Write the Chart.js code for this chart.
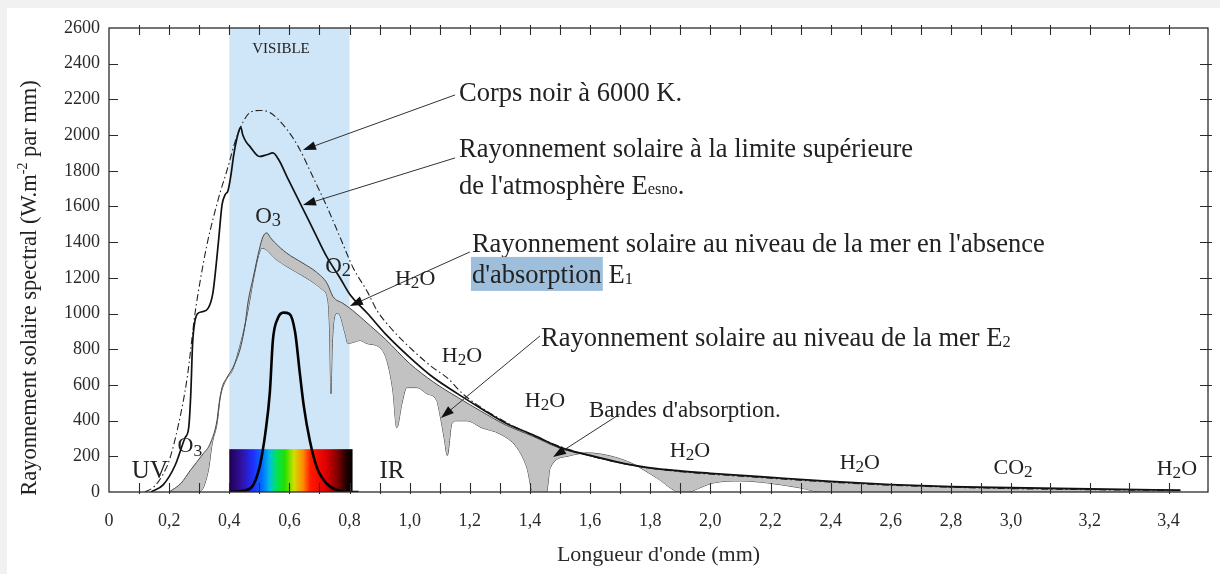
<!DOCTYPE html>
<html>
<head>
<meta charset="utf-8">
<script src="https://cdn.jsdelivr.net/npm/chart.js@4/dist/chart.umd.min.js"></script>
<style>
  html, body { margin: 0; padding: 0; background: #fff; overflow: hidden; }
  canvas { display: block; }
</style>
</head>
<body>
<canvas id="spectre" width="1220" height="574"></canvas>
<script>
// ---- Spectral irradiance readings (wavelength, W.m-2 per unit) ----

// Black body at 6000 K
const bbX = [0.12,0.15,0.18,0.20,0.23,0.26,0.286,0.303,0.325,0.346,0.37,0.392,0.425,0.469,0.502,0.535,0.592,0.635,0.678,0.725,0.768,0.811,0.86,0.891,0.944,1.011,1.077,1.124,1.18,1.3,1.4,1.5,1.6,1.7,1.8,1.9,2.0,2.2,2.4,2.6,2.8,3.0,3.2,3.43];
const bbY = [0,30,100,175,370,640,1000,1180,1380,1530,1680,1800,1990,2126,2138,2126,2031,1918,1766,1598,1429,1260,1120,1018,906,793,697,641,545,410,325,255,203,163,133,114,100,77,55,38,27,19,13,8];

// Solar irradiance at the top of the atmosphere (Eesno)
const esnoX = [0.14,0.18,0.22,0.253,0.265,0.272,0.278,0.285,0.295,0.31,0.33,0.345,0.355,0.365,0.376,0.386,0.396,0.405,0.415,0.428,0.438,0.445,0.455,0.469,0.50,0.525,0.545,0.565,0.592,0.635,0.68,0.725,0.77,0.80,0.86,0.92,1.0,1.08,1.16,1.24,1.32,1.41,1.5,1.6,1.7,1.8,1.9,2.0,2.2,2.4,2.6,2.8,3.0,3.2,3.43];
const esnoY = [0,40,150,304,360,550,830,950,1000,1010,1030,1110,1250,1420,1610,1665,1690,1770,1890,2000,2045,2000,1965,1935,1880,1890,1900,1860,1766,1620,1468,1316,1195,1110,1000,885,755,640,550,465,385,320,250,205,165,135,118,105,82,60,42,30,24,17,11];

// Sea level, without absorption (E1)
const e1X = [0.20,0.24,0.269,0.313,0.336,0.359,0.366,0.376,0.392,0.412,0.436,0.452,0.462,0.48,0.50,0.512,0.525,0.537,0.55,0.59,0.645,0.69,0.725,0.745,0.778,0.81,0.87,0.92,1.0,1.08,1.16,1.24,1.32,1.41,1.5,1.6,1.7,1.8,1.9,2.0,2.2,2.4,2.6,2.8,3.0,3.2,3.43];
const e1Y = [0,50,118,214,270,400,495,585,641,697,800,930,1060,1205,1360,1430,1452,1425,1400,1340,1282,1232,1170,1095,1057,1018,930,855,720,615,530,450,375,312,245,202,162,133,116,103,80,58,40,28,22,15,9];

// Sea level (E2)
const e2X = [0.20,0.30,0.33,0.343,0.36,0.37,0.39,0.41,0.43,0.45,0.465,0.48,0.50,0.509,0.559,0.612,0.668,0.712,0.728,0.734,0.738,0.742,0.748,0.758,0.768,0.785,0.795,0.811,0.835,0.858,0.90,0.924,0.944,0.957,0.974,0.99,1.024,1.057,1.09,1.10,1.115,1.125,1.14,1.157,1.19,1.24,1.30,1.357,1.39,1.41,1.455,1.467,1.523,1.59,1.666,1.743,1.822,1.90,1.93,1.94,2.01,2.10,2.19,2.30,2.37,3.43];
const e2Y = [0,0,118,270,390,530,630,680,785,918,1045,1190,1340,1367,1299,1243,1187,1131,1074,889,551,800,962,1001,990,889,832,838,849,832,810,737,568,360,495,585,585,551,512,439,300,205,382,399,399,360,326,248,135,0,0,135,200,219,202,157,79,0,0,6,51,62,51,23,0,0];

// Eye sensitivity curve inside the visible band
const eyeX = [0.40,0.45,0.48,0.50,0.51,0.52,0.535,0.545,0.562,0.58,0.60,0.619,0.635,0.648,0.668,0.692,0.725,0.758,0.80,0.83];
const eyeY = [0,8,40,135,220,330,560,850,975,1005,998,895,660,480,287,135,45,11,0,0];

// Axis ticks
const xTickValues = [0,0.2,0.4,0.6,0.8,1.0,1.2,1.4,1.6,1.8,2.0,2.2,2.4,2.6,2.8,3.0,3.2,3.4];
const xTickLabels = ['0','0,2','0,4','0,6','0,8','1,0','1,2','1,4','1,6','1,8','2,0','2,2','2,4','2,6','2,8','3,0','3,2','3,4'];
const yTickValues = [0,200,400,600,800,1000,1200,1400,1600,1800,2000,2200,2400,2600];
const yTickLabels = ['0','200','400','600','800','1000','1200','1400','1600','1800','2000','2200','2400','2600'];

// Visible band and colour strip (wavelength bounds)
const visibleBand = [0.4, 0.8];
const spectrumStrip = [0.4, 0.81];
const spectrumTop = 240;
const spectrumStops = [
  [0.40,'#200050'],[0.44,'#3010a0'],[0.48,'#2030ff'],[0.51,'#0070ff'],[0.535,'#00c0e0'],
  [0.555,'#00e060'],[0.585,'#20e000'],[0.615,'#d0e000'],[0.645,'#ff8a00'],[0.67,'#ff1a00'],
  [0.72,'#e00000'],[0.76,'#800000'],[0.79,'#200000'],[0.81,'#000000']
];

// ---- Text annotations (data coordinates) ----
const notes = [
  { x: 1.164, y: 2241, size: 26.5, parts: [['Corps noir à 6000 K.']] },
  { x: 1.164, y: 1928, size: 26.5, parts: [['Rayonnement solaire à la limite supérieure']] },
  { x: 1.164, y: 1720, size: 26.5, parts: [["de l'atmosphère E"], ['esno', 0.62, 0], ['.']] },
  { x: 1.207, y: 1395, size: 26.5, parts: [["Rayonnement solaire au niveau de la mer en l'absence"]] },
  { x: 1.207, y: 1222, size: 26.5, mark: true, parts: [["d'absorption"], [' E'], ['1', 0.62, 0.04]] },
  { x: 1.437, y: 869, size: 26.5, parts: [['Rayonnement solaire au niveau de la mer E'], ['2', 0.62, 0.04]] },
  { x: 1.596, y: 465, size: 23, parts: [["Bandes d'absorption."]] },
  { x: 0.572, y: 2488, size: 15, center: true, parts: [['VISIBLE']] },
  { x: 0.529, y: 1552, size: 23, center: true, parts: [['O'], ['3', 0.8, 0.15]] },
  { x: 0.762, y: 1272, size: 23, center: true, parts: [['O'], ['2', 0.8, 0.15]] },
  { x: 1.018, y: 1199, size: 22, center: true, parts: [['H'], ['2', 0.78, 0.12], ['O']] },
  { x: 1.174, y: 768, size: 22, center: true, parts: [['H'], ['2', 0.78, 0.12], ['O']] },
  { x: 1.450, y: 516, size: 22, center: true, parts: [['H'], ['2', 0.78, 0.12], ['O']] },
  { x: 1.932, y: 235, size: 22, center: true, parts: [['H'], ['2', 0.78, 0.12], ['O']] },
  { x: 2.497, y: 168, size: 22, center: true, parts: [['H'], ['2', 0.78, 0.12], ['O']] },
  { x: 3.421, y: 134, size: 22, center: true, parts: [['H'], ['2', 0.78, 0.12], ['O']] },
  { x: 3.005, y: 140, size: 22, center: true, parts: [['CO'], ['2', 0.78, 0.12]] },
  { x: 0.269, y: 263, size: 22, center: true, parts: [['O'], ['3', 0.8, 0.15]] },
  { x: 0.136, y: 123, size: 25, center: true, parts: [['UV']] },
  { x: 0.941, y: 123, size: 25, center: true, parts: [['IR']] }
];

// Leader arrows from each caption to its curve
const pointers = [
  { from: [1.151, 2225], to: [0.645, 1916] },
  { from: [1.151, 1872], to: [0.645, 1608] },
  { from: [1.200, 1345], to: [0.801, 1042] },
  { from: [1.433, 874],  to: [1.104, 415] },
  { from: [1.699, 437],  to: [1.477, 196] }
];

// ---- Drawing helpers ----
const SERIF = "'Liberation Serif', 'Times New Roman', serif";
const font = px => px + 'px ' + SERIF;
Chart.defaults.font.family = SERIF;

// wavelength axis is stretched beyond 3.0
const BREAK = 3.0, STRETCH = 1.31;
const warp = v => v <= BREAK ? v : BREAK + (v - BREAK) * STRETCH;
const unwarp = w => w <= BREAK ? w : BREAK + (w - BREAK) / STRETCH;

class WarpScale extends Chart.LinearScale {
  getPixelForValue(value) {
    const lo = warp(this.min), hi = warp(this.max);
    return this.getPixelForDecimal((warp(value) - lo) / (hi - lo));
  }
  getValueForPixel(pixel) {
    const lo = warp(this.min), hi = warp(this.max);
    return unwarp(lo + this.getDecimalForPixel(pixel) * (hi - lo));
  }
}
WarpScale.id = 'warp';
WarpScale.defaults = Chart.LinearScale.defaults;
Chart.register(WarpScale);

function measureRich(ctx, parts, size) {
  const widths = parts.map(([t, s = 1]) => { ctx.font = font(size * s); return ctx.measureText(t).width; });
  return { widths, total: widths.reduce((a, b) => a + b, 0) };
}

function drawRich(ctx, parts, x, y, size, center, mark) {
  const m = measureRich(ctx, parts, size);
  let cx = center ? x - m.total / 2 : x;
  if (mark) {
    ctx.fillStyle = '#9dbfdc';
    ctx.fillRect(cx - 1, y - 17, m.widths[0] + 2, 34);
  }
  ctx.fillStyle = '#222';
  ctx.textBaseline = 'alphabetic';
  ctx.textAlign = 'left';
  const base = y + size * 0.33;
  parts.forEach(([t, s = 1, dy = 0], i) => {
    ctx.font = font(size * s);
    ctx.fillText(t, cx, base + dy * size);
    cx += m.widths[i];
  });
}

function drawArrow(ctx, x0, y0, x1, y1) {
  const ang = Math.atan2(y1 - y0, x1 - x0);
  const len = 13, half = 4.5;
  const bx = x1 - Math.cos(ang) * len, by = y1 - Math.sin(ang) * len;
  ctx.strokeStyle = '#333';
  ctx.lineWidth = 1;
  ctx.beginPath();
  ctx.moveTo(x0, y0);
  ctx.lineTo(bx, by);
  ctx.stroke();
  ctx.fillStyle = '#111';
  ctx.beginPath();
  ctx.moveTo(x1, y1);
  ctx.lineTo(bx - Math.sin(ang) * half, by + Math.cos(ang) * half);
  ctx.lineTo(bx + Math.sin(ang) * half, by - Math.cos(ang) * half);
  ctx.closePath();
  ctx.fill();
}

const decor = {
  id: 'decor',
  beforeDraw(chart) {
    const { ctx, width, height } = chart;
    ctx.save();
    ctx.fillStyle = '#ffffff';
    ctx.fillRect(0, 0, width, height);
    ctx.fillStyle = '#f1f1f1';
    ctx.fillRect(0, 0, width, 8);
    ctx.fillRect(0, 0, 7, height);
    ctx.restore();
  },
  beforeDatasetsDraw(chart) {
    const { ctx, chartArea: a, scales: { x, y } } = chart;
    ctx.save();
    const v0 = x.getPixelForValue(visibleBand[0]), v1 = x.getPixelForValue(visibleBand[1]);
    ctx.fillStyle = '#cfe6f8';
    ctx.fillRect(v0, a.top, v1 - v0, a.bottom - a.top);

    const s0 = x.getPixelForValue(spectrumStrip[0]), s1 = x.getPixelForValue(spectrumStrip[1]);
    const st = y.getPixelForValue(spectrumTop), sb = y.getPixelForValue(0);
    const g = ctx.createLinearGradient(s0, 0, s1, 0);
    spectrumStops.forEach(([w, c]) => {
      const f = Math.min(1, Math.max(0, (x.getPixelForValue(w) - s0) / (s1 - s0)));
      g.addColorStop(f, c);
    });
    ctx.fillStyle = g;
    ctx.fillRect(s0, st, s1 - s0, sb - st);
    ctx.restore();
  },
  afterDatasetsDraw(chart) {
    const { ctx, chartArea: a, scales: { x, y } } = chart;
    ctx.save();
    ctx.strokeStyle = '#2b2b2b';
    ctx.lineWidth = 1.3;
    ctx.strokeRect(a.left, a.top, a.right - a.left, a.bottom - a.top);
    ctx.lineWidth = 1.1;
    ctx.beginPath();
    for (let k = 1; k <= 34; k++) {
      const px = Math.round(x.getPixelForValue(k / 10)) + 0.5;
      ctx.moveTo(px, a.bottom + 2); ctx.lineTo(px, a.bottom - 9);
      ctx.moveTo(px, a.top - 3); ctx.lineTo(px, a.top + 7);
    }
    for (let k = 1; k <= 12; k++) {
      const py = Math.round(y.getPixelForValue(k * 200)) + 0.5;
      ctx.moveTo(a.left, py); ctx.lineTo(a.left + 9, py);
      ctx.moveTo(a.right - 8, py); ctx.lineTo(a.right + 4, py);
    }
    ctx.stroke();
    ctx.restore();
  },
  afterDraw(chart) {
    const { ctx, scales: { x, y } } = chart;
    ctx.save();
    pointers.forEach(p => drawArrow(ctx,
      x.getPixelForValue(p.from[0]), y.getPixelForValue(p.from[1]),
      x.getPixelForValue(p.to[0]), y.getPixelForValue(p.to[1])));
    notes.forEach(n => drawRich(ctx, n.parts, x.getPixelForValue(n.x), y.getPixelForValue(n.y), n.size, n.center, n.mark));

    // vertical axis title
    ctx.translate(29, 288);
    ctx.rotate(-Math.PI / 2);
    drawRich(ctx, [['Rayonnement solaire spectral (W.m'], ['-2', 0.62, -0.4], [' par mm)']], 0, 0, 22.5, true, false);
    ctx.restore();
  }
};

const pts = (xs, ys) => xs.map((v, i) => ({ x: v, y: ys[i] }));
const line = { pointRadius: 0, cubicInterpolationMode: 'monotone', xAxisID: 'x', yAxisID: 'y' };

new Chart(document.getElementById('spectre'), {
  type: 'line',
  data: {
    datasets: [
      { ...line, label: 'Sensibilité', data: pts(eyeX, eyeY), borderColor: '#000', borderWidth: 2.6, fill: false },
      { ...line, label: 'Eesno', data: pts(esnoX, esnoY), borderColor: '#111', borderWidth: 1.7, fill: false },
      { ...line, label: 'Corps noir', data: pts(bbX, bbY), borderColor: '#222', borderWidth: 1.1, borderDash: [7, 3, 1.5, 3], fill: false },
      { ...line, label: 'E1', data: pts(e1X, e1Y), borderColor: '#4a4a4a', borderWidth: 1, fill: { target: '+1' }, backgroundColor: '#c2c2c2' },
      { ...line, label: 'E2', data: pts(e2X, e2Y), borderColor: '#3a3a3a', borderWidth: 1, fill: false }
    ]
  },
  options: {
    responsive: false,
    devicePixelRatio: 1,
    animation: false,
    events: [],
    layout: { padding: { left: 0, right: 12, top: 28, bottom: 0 } },
    plugins: { legend: { display: false }, tooltip: { enabled: false } },
    scales: {
      x: {
        type: 'warp', position: 'bottom', min: 0, max: 3.5,
        afterBuildTicks: s => { s.ticks = xTickValues.map(v => ({ value: v })); },
        afterFit: s => { s.height = 82; },
        grid: { display: false, drawTicks: false },
        border: { display: false },
        ticks: {
          autoSkip: false, maxRotation: 0, padding: 18, color: '#2a2a2a',
          font: { size: 18 },
          callback: (v, i) => xTickLabels[i]
        },
        title: {
          display: true, text: "Longueur d'onde (mm)", color: '#2a2a2a',
          font: { size: 22 }, padding: { top: 0, bottom: 6 }
        }
      },
      x2: {
        type: 'warp', position: 'top', min: 0, max: 3.5,
        afterFit: s => { s.height = 0; },
        grid: { display: false, drawTicks: false },
        border: { display: false },
        ticks: { display: false }
      },
      y: {
        type: 'linear', position: 'left', min: 0, max: 2600,
        afterBuildTicks: s => { s.ticks = yTickValues.map(v => ({ value: v })); },
        afterFit: s => { s.width = 109; },
        grid: { display: false, drawTicks: false },
        border: { display: false },
        ticks: {
          padding: 9, color: '#2a2a2a', font: { size: 18 },
          callback: (v, i) => yTickLabels[i]
        }
      },
      y2: {
        type: 'linear', position: 'right', min: 0, max: 2600,
        afterFit: s => { s.width = 0; },
        grid: { display: false, drawTicks: false },
        border: { display: false },
        ticks: { display: false }
      }
    }
  },
  plugins: [decor]
});
</script>
</body>
</html>
